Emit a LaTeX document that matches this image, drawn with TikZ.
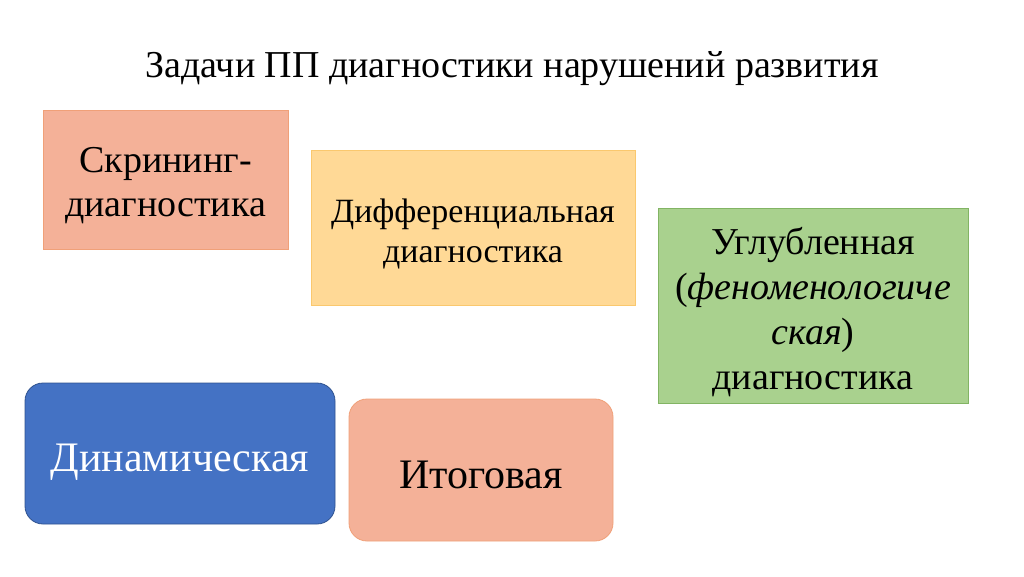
\documentclass[tikz,border=0pt]{standalone}
\usepackage{fontspec}
\setmainfont{Liberation Serif}

\definecolor{salmonfill}{RGB}{244,177,152}
\definecolor{salmonline}{RGB}{240,160,120}
\definecolor{yellowfill}{RGB}{255,217,150}
\definecolor{yellowline}{RGB}{250,200,110}
\definecolor{greenfill}{RGB}{169,209,142}
\definecolor{greenline}{RGB}{130,180,100}
\definecolor{bluefill}{RGB}{68,114,196}
\definecolor{blueline}{RGB}{47,82,143}

\begin{document}
\begin{tikzpicture}[x=1pt,y=-1pt]
\tikzset{box/.style={draw, line width=0.8pt, inner sep=0pt},
  rbox/.style={box, rounded corners=18pt},
  txt/.style={inner sep=0pt, align=center}}
\useasboundingbox (0,0) rectangle (1024,576);
\node (title) at (512,69) {\fontsize{38}{44}\selectfont Задачи ПП диагностики нарушений развития};
% boxes
\node [box, fill=salmonfill, draw=salmonline, minimum width=245pt, minimum height=139pt] (screen) at (165.5,179.5) {};
\node [box, fill=yellowfill, draw=yellowline, minimum width=324pt, minimum height=155pt] (diff) at (473,227.5) {};
\node [box, fill=greenfill, draw=greenline, minimum width=310pt, minimum height=195pt] (deep) at (813,305.5) {};
\node [rbox, fill=bluefill, draw=blueline, minimum width=310pt, minimum height=141pt] (dyn) at (180,453.5) {};
\node [rbox, fill=salmonfill, draw=salmonline, minimum width=264pt, minimum height=142pt] (final) at (481,470) {};
% texts
\node [txt, font=\fontsize{38}{44}\selectfont] (screentext) at ([yshift=-6pt]screen.center) {Скрининг-\\диагностика};
\node [txt, font=\fontsize{34}{40}\selectfont] (difftext) at ([yshift=-6pt]diff.center) {Дифференциальная\\диагностика};
\node [txt, font=\fontsize{38}{45}\selectfont] (deeptext) at ([yshift=-7pt]deep.center) {Углубленная\\(\textit{феноменологиче}\\\textit{ская})\\диагностика};
\node [txt, font=\fontsize{42}{48}\selectfont, text=white] (dyntext) at ([yshift=-9pt]dyn.center) {Динамическая};
\node [txt, font=\fontsize{42}{48}\selectfont] (finaltext) at ([yshift=-5pt]final.center) {Итоговая};
\end{tikzpicture}
\end{document}
